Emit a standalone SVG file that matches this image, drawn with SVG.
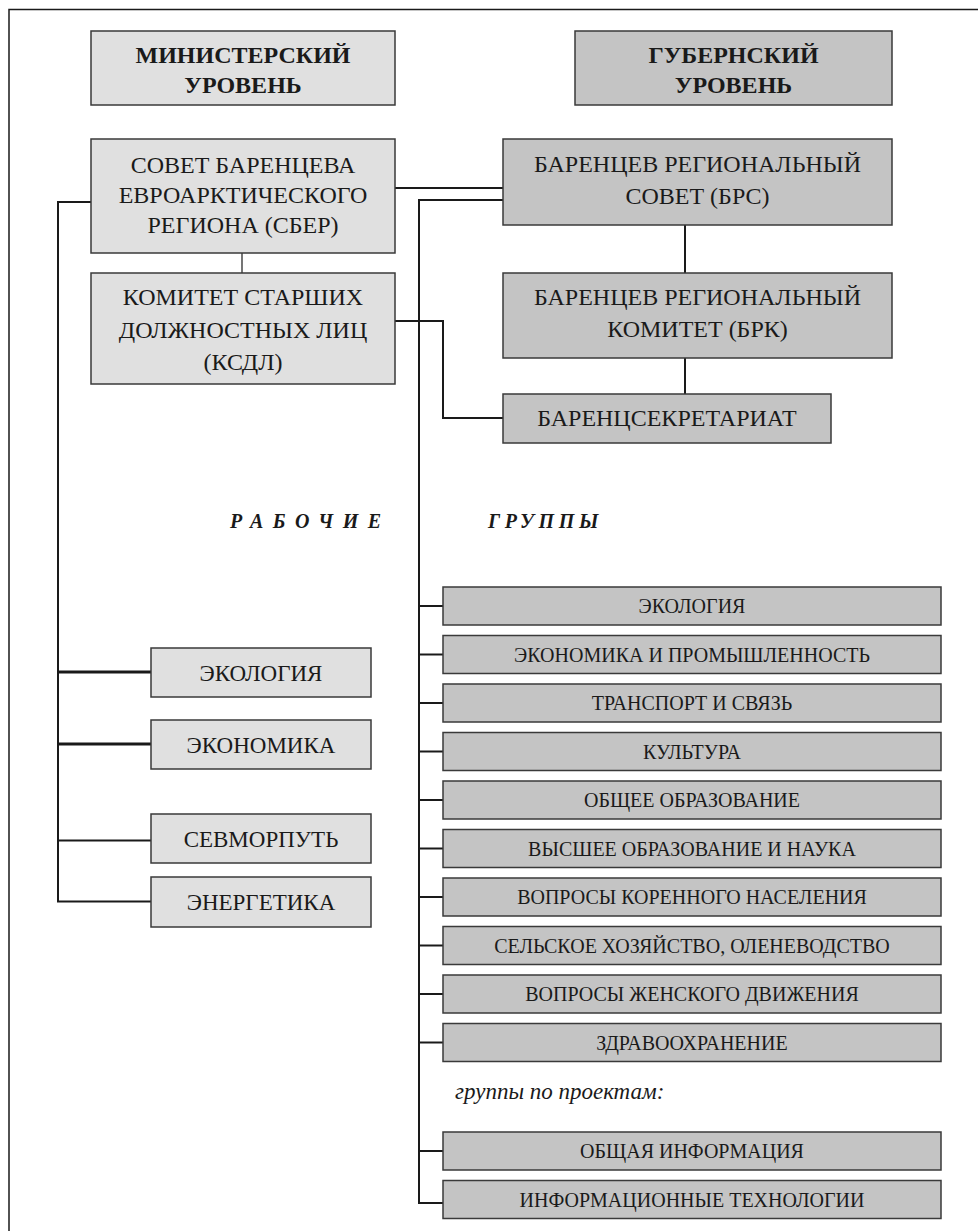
<svg xmlns="http://www.w3.org/2000/svg" width="978" height="1231" viewBox="0 0 978 1231">
<style>
.lt{fill:#e0e0e0;stroke:#3a3a3a;stroke-width:1.5}
.dk{fill:#c4c4c4;stroke:#3a3a3a;stroke-width:1.5}
text{font-family:"Liberation Serif","Times New Roman",serif;fill:#1a1a1a;text-anchor:middle}
.h{font-size:24px;font-weight:bold}
.m{font-size:24px}
.g{font-size:23px}
.r{font-size:20px}
.c{fill:none;stroke:#1a1a1a;stroke-width:2}
.t{font-size:20px;font-weight:bold;font-style:italic;text-anchor:start}
</style>
<rect x="9" y="9.5" width="980" height="1240" fill="none" stroke="#1a1a1a" stroke-width="1.5"/>
<g id="connectors">
<line class="c" x1="395" y1="188" x2="503" y2="188"/>
<polyline class="c" points="503,200 419,200 419,1203 443,1203"/>
<polyline class="c" points="395,321 443,321 443,418 503,418"/>
<line class="c" x1="242" y1="253" x2="242" y2="273" style="stroke-width:1.2"/>
<line class="c" x1="685" y1="225" x2="685" y2="273"/>
<line class="c" x1="685" y1="358" x2="685" y2="394"/>
<polyline class="c" points="91,202 58,202 58,901.5 151,901.5"/>
<line class="c" x1="58" y1="672" x2="151" y2="672" style="stroke-width:3"/>
<line class="c" x1="58" y1="744" x2="151" y2="744" style="stroke-width:3"/>
<line class="c" x1="58" y1="840.5" x2="151" y2="840.5"/>
<line class="c" x1="419" y1="606" x2="443" y2="606"/>
<line class="c" x1="419" y1="654.5" x2="443" y2="654.5"/>
<line class="c" x1="419" y1="703" x2="443" y2="703"/>
<line class="c" x1="419" y1="751.5" x2="443" y2="751.5"/>
<line class="c" x1="419" y1="800" x2="443" y2="800"/>
<line class="c" x1="419" y1="848.5" x2="443" y2="848.5"/>
<line class="c" x1="419" y1="897" x2="443" y2="897"/>
<line class="c" x1="419" y1="945.5" x2="443" y2="945.5"/>
<line class="c" x1="419" y1="994" x2="443" y2="994"/>
<line class="c" x1="419" y1="1042.5" x2="443" y2="1042.5"/>
<line class="c" x1="419" y1="1151" x2="443" y2="1151"/>
</g>
<g id="ministerial-level"><rect class="lt" x="91" y="31" width="304" height="74"/><text class="h" x="243" y="63">МИНИСТЕРСКИЙ</text><text class="h" x="243" y="93">УРОВЕНЬ</text></g>
<g id="gubernial-level"><rect class="dk" x="575" y="31" width="317" height="74"/><text class="h" x="733.5" y="63">ГУБЕРНСКИЙ</text><text class="h" x="733.5" y="93">УРОВЕНЬ</text></g>
<g id="sber"><rect class="lt" x="91" y="139" width="304" height="114"/><text class="m" x="243" y="173">СОВЕТ БАРЕНЦЕВА</text><text class="m" x="243" y="203">ЕВРОАРКТИЧЕСКОГО</text><text class="m" x="243" y="233">РЕГИОНА (СБЕР)</text></g>
<g id="ksdl"><rect class="lt" x="91" y="273" width="304" height="111"/><text class="m" x="243" y="305">КОМИТЕТ СТАРШИХ</text><text class="m" x="243" y="338">ДОЛЖНОСТНЫХ ЛИЦ</text><text class="m" x="243" y="370">(КСДЛ)</text></g>
<g id="brs"><rect class="dk" x="503" y="139" width="389" height="86"/><text class="m" x="697.5" y="172">БАРЕНЦЕВ РЕГИОНАЛЬНЫЙ</text><text class="m" x="697.5" y="204">СОВЕТ (БРС)</text></g>
<g id="brk"><rect class="dk" x="503" y="273" width="389" height="85"/><text class="m" x="697.5" y="305">БАРЕНЦЕВ РЕГИОНАЛЬНЫЙ</text><text class="m" x="697.5" y="337">КОМИТЕТ (БРК)</text></g>
<g id="barents-secretariat"><rect class="dk" x="503" y="394" width="328" height="49"/><text class="m" x="667" y="426">БАРЕНЦСЕКРЕТАРИАТ</text></g>
<g id="working-groups-title"><text class="t" x="230" y="528" style="letter-spacing:9.5px">РАБОЧИЕ</text><text class="t" x="488" y="528" style="letter-spacing:4.6px">ГРУППЫ</text></g>
<g id="m-ecology"><rect class="lt" x="151" y="648" width="220" height="49"/><text class="g" x="261" y="681">ЭКОЛОГИЯ</text></g>
<g id="m-economy"><rect class="lt" x="151" y="720" width="220" height="49"/><text class="g" x="261" y="753">ЭКОНОМИКА</text></g>
<g id="m-sevmorput"><rect class="lt" x="151" y="814" width="220" height="49"/><text class="g" x="261" y="847">СЕВМОРПУТЬ</text></g>
<g id="m-energy"><rect class="lt" x="151" y="877" width="220" height="50"/><text class="g" x="261" y="910">ЭНЕРГЕТИКА</text></g>
<g id="g-ecology"><rect class="dk" x="443" y="587" width="498" height="38"/><text class="r" x="692" y="613">ЭКОЛОГИЯ</text></g>
<g id="g-economy"><rect class="dk" x="443" y="635.5" width="498" height="38"/><text class="r" x="692" y="661.5">ЭКОНОМИКА И ПРОМЫШЛЕННОСТЬ</text></g>
<g id="g-transport"><rect class="dk" x="443" y="684" width="498" height="38"/><text class="r" x="692" y="710">ТРАНСПОРТ И СВЯЗЬ</text></g>
<g id="g-culture"><rect class="dk" x="443" y="732.5" width="498" height="38"/><text class="r" x="692" y="758.5">КУЛЬТУРА</text></g>
<g id="g-general-edu"><rect class="dk" x="443" y="781" width="498" height="38"/><text class="r" x="692" y="807">ОБЩЕЕ ОБРАЗОВАНИЕ</text></g>
<g id="g-higher-edu"><rect class="dk" x="443" y="829.5" width="498" height="38"/><text class="r" x="692" y="855.5">ВЫСШЕЕ ОБРАЗОВАНИЕ И НАУКА</text></g>
<g id="g-indigenous"><rect class="dk" x="443" y="878" width="498" height="38"/><text class="r" x="692" y="904">ВОПРОСЫ КОРЕННОГО НАСЕЛЕНИЯ</text></g>
<g id="g-agriculture"><rect class="dk" x="443" y="926.5" width="498" height="38"/><text class="r" x="692" y="952.5">СЕЛЬСКОЕ ХОЗЯЙСТВО, ОЛЕНЕВОДСТВО</text></g>
<g id="g-women"><rect class="dk" x="443" y="975" width="498" height="38"/><text class="r" x="692" y="1001">ВОПРОСЫ ЖЕНСКОГО ДВИЖЕНИЯ</text></g>
<g id="g-health"><rect class="dk" x="443" y="1023.5" width="498" height="38"/><text class="r" x="692" y="1049.5">ЗДРАВООХРАНЕНИЕ</text></g>
<text x="455" y="1099" style="font-size:23px;font-style:italic;text-anchor:start">группы по проектам:</text>
<g id="p-info"><rect class="dk" x="443" y="1132" width="498" height="38"/><text class="r" x="692" y="1158">ОБЩАЯ ИНФОРМАЦИЯ</text></g>
<g id="p-it"><rect class="dk" x="443" y="1180.5" width="498" height="38"/><text class="r" x="692" y="1206.5">ИНФОРМАЦИОННЫЕ ТЕХНОЛОГИИ</text></g>
</svg>
